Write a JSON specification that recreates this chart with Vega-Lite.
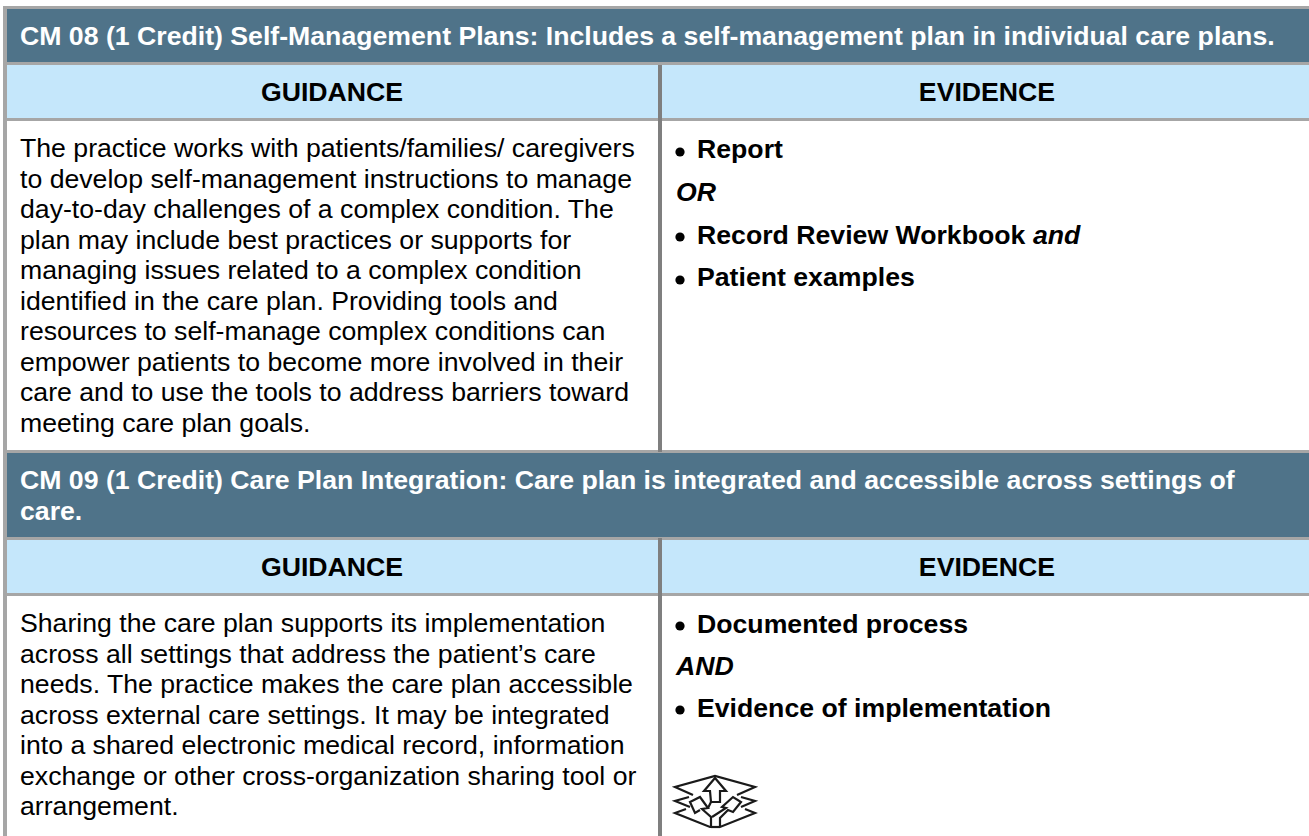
{"$schema":"https://vega.github.io/schema/vega-lite/v6.json","width":1309,"height":836,"padding":0,"autosize":{"type":"none"},"background":"white","config":{"view":{"stroke":null}},
"encoding":{
"x":{"field":"x","type":"quantitative","scale":{"domain":[0,1309],"range":[0,1309]},"axis":null},
"y":{"field":"y","type":"quantitative","scale":{"domain":[0,836],"range":[0,836]},"axis":null}},
"layer":[
{"data":{"values":[
{"kind":"rule","x":3,"x2":1309,"y":6,"y2":836},
{"kind":"white","x":7,"x2":1309,"y":9,"y2":836},
{"kind":"dark","x":7,"x2":1309,"y":9,"y2":62},
{"kind":"rule","x":7,"x2":1309,"y":62,"y2":65},
{"kind":"light","x":7,"x2":1309,"y":65,"y2":118},
{"kind":"rule","x":7,"x2":1309,"y":118,"y2":121},
{"kind":"rule","x":7,"x2":1309,"y":450,"y2":453},
{"kind":"dark","x":7,"x2":1309,"y":453,"y2":537},
{"kind":"rule","x":7,"x2":1309,"y":537,"y2":540},
{"kind":"light","x":7,"x2":1309,"y":540,"y2":593},
{"kind":"rule","x":7,"x2":1309,"y":593,"y2":596},
{"kind":"divider","x":658,"x2":662,"y":65,"y2":452},
{"kind":"divider","x":658,"x2":662,"y":538,"y2":836}
]},"mark":{"type":"rect"},"encoding":{
"x2":{"field":"x2"},"y2":{"field":"y2"},
"color":{"field":"kind","type":"nominal","legend":null,"scale":{"domain":["rule","white","dark","light","divider"],"range":["#a6a6a6","#ffffff","#4f7389","#c5e7fb","#7f7f7f"]}}
}},
{"data":{"values":[
{"x":20,"y":44.5,"t":"CM 08 (1 Credit) Self-Management Plans: Includes a self-management plan in individual care plans."},
{"x":20,"y":489,"t":"CM 09 (1 Credit) Care Plan Integration: Care plan is integrated and accessible across settings of"},
{"x":20,"y":519.5,"t":"care."}
]},"mark":{"type":"text","align":"left","baseline":"alphabetic","font":"Liberation Sans","fontWeight":"bold","fontSize":26.67,"color":"#ffffff"},"encoding":{"text":{"field":"t"}}},
{"data":{"values":[
{"x":332,"y":101,"t":"GUIDANCE"},{"x":987,"y":101,"t":"EVIDENCE"},
{"x":332,"y":575.5,"t":"GUIDANCE"},{"x":987,"y":575.5,"t":"EVIDENCE"}
]},"mark":{"type":"text","align":"center","baseline":"alphabetic","font":"Liberation Sans","fontWeight":"bold","fontSize":26.67,"color":"#000000"},"encoding":{"text":{"field":"t"}}},
{"data":{"values":[
{"x":20,"y":157,"t":"The practice works with patients/families/ caregivers"},
{"x":20,"y":187.5,"t":"to develop self-management instructions to manage"},
{"x":20,"y":218,"t":"day-to-day challenges of a complex condition. The"},
{"x":20,"y":248.5,"t":"plan may include best practices or supports for"},
{"x":20,"y":279,"t":"managing issues related to a complex condition"},
{"x":20,"y":309.5,"t":"identified in the care plan. Providing tools and"},
{"x":20,"y":340,"t":"resources to self-manage complex conditions can"},
{"x":20,"y":370.5,"t":"empower patients to become more involved in their"},
{"x":20,"y":401,"t":"care and to use the tools to address barriers toward"},
{"x":20,"y":431.5,"t":"meeting care plan goals."},
{"x":20,"y":632,"t":"Sharing the care plan supports its implementation"},
{"x":20,"y":662.5,"t":"across all settings that address the patient’s care"},
{"x":20,"y":693,"t":"needs. The practice makes the care plan accessible"},
{"x":20,"y":723.5,"t":"across external care settings. It may be integrated"},
{"x":20,"y":754,"t":"into a shared electronic medical record, information"},
{"x":20,"y":784.5,"t":"exchange or other cross-organization sharing tool or"},
{"x":20,"y":815,"t":"arrangement."}
]},"mark":{"type":"text","align":"left","baseline":"alphabetic","font":"Liberation Sans","fontSize":26.67,"color":"#000000"},"encoding":{"text":{"field":"t"}}},
{"data":{"values":[
{"x":697,"y":158,"t":"Report"},
{"x":697,"y":243.5,"t":"Record Review Workbook"},
{"x":697,"y":286,"t":"Patient examples"},
{"x":697,"y":633,"t":"Documented process"},
{"x":697,"y":717,"t":"Evidence of implementation"}
]},"mark":{"type":"text","align":"left","baseline":"alphabetic","font":"Liberation Sans","fontWeight":"bold","fontSize":26.67,"color":"#000000"},"encoding":{"text":{"field":"t"}}},
{"data":{"values":[
{"x":676,"y":201,"t":"OR"},
{"x":1033,"y":243.5,"t":"and"},
{"x":676,"y":675,"t":"AND"}
]},"mark":{"type":"text","align":"left","baseline":"alphabetic","font":"Liberation Sans","fontWeight":"bold","fontStyle":"italic","fontSize":26.67,"color":"#000000"},"encoding":{"text":{"field":"t"}}},
{"data":{"values":[
{"x":680,"y":152},{"x":680,"y":237},{"x":680,"y":280},{"x":680,"y":626},{"x":680,"y":710}
]},"mark":{"type":"point","filled":true,"size":85,"color":"#000000","opacity":1}},
{"data":{"values":[
{"p":"a","o":1,"x":693,"y":795},{"p":"a","o":2,"x":675,"y":787},{"p":"a","o":3,"x":715,"y":776},{"p":"a","o":4,"x":755,"y":787},{"p":"a","o":5,"x":737,"y":795},
{"p":"b","o":1,"x":689,"y":797},{"p":"b","o":2,"x":675,"y":801},{"p":"b","o":3,"x":690,"y":807},
{"p":"c","o":1,"x":741,"y":797},{"p":"c","o":2,"x":755,"y":801},{"p":"c","o":3,"x":741,"y":807},
{"p":"d","o":1,"x":686,"y":809},{"p":"d","o":2,"x":675,"y":813},{"p":"d","o":3,"x":710,"y":827},{"p":"d","o":4,"x":720,"y":827},{"p":"d","o":5,"x":755,"y":813},{"p":"d","o":6,"x":745,"y":809},
{"p":"e","o":1,"x":711,"y":802},{"p":"e","o":2,"x":710,"y":791},{"p":"e","o":3,"x":704,"y":791},{"p":"e","o":4,"x":715,"y":778},{"p":"e","o":5,"x":726,"y":791},{"p":"e","o":6,"x":720,"y":791},{"p":"e","o":7,"x":720,"y":802},{"p":"e","o":8,"x":711,"y":802},
{"p":"f","o":1,"x":711,"y":826},{"p":"f","o":2,"x":711,"y":817},{"p":"f","o":3,"x":702,"y":809},{"p":"f","o":4,"x":708,"y":808},{"p":"f","o":5,"x":700,"y":797},{"p":"f","o":6,"x":690,"y":802},{"p":"f","o":7,"x":695,"y":813},{"p":"f","o":8,"x":700,"y":810},
{"p":"g","o":1,"x":720,"y":826},{"p":"g","o":2,"x":720,"y":818},{"p":"g","o":3,"x":728,"y":810},{"p":"g","o":4,"x":733,"y":812},{"p":"g","o":5,"x":741,"y":802},{"p":"g","o":6,"x":733,"y":797},{"p":"g","o":7,"x":722,"y":807},{"p":"g","o":8,"x":726,"y":808},{"p":"g","o":9,"x":712,"y":817},
{"p":"h","o":1,"x":711,"y":827},{"p":"h","o":2,"x":720,"y":827},
{"p":"i","o":1,"x":708,"y":808},{"p":"i","o":2,"x":711,"y":802}
]},"mark":{"type":"line","color":"#1a1a1a","strokeWidth":2.2,"interpolate":"linear"},"encoding":{"detail":{"field":"p"},"order":{"field":"o","type":"quantitative"}}}
]}
